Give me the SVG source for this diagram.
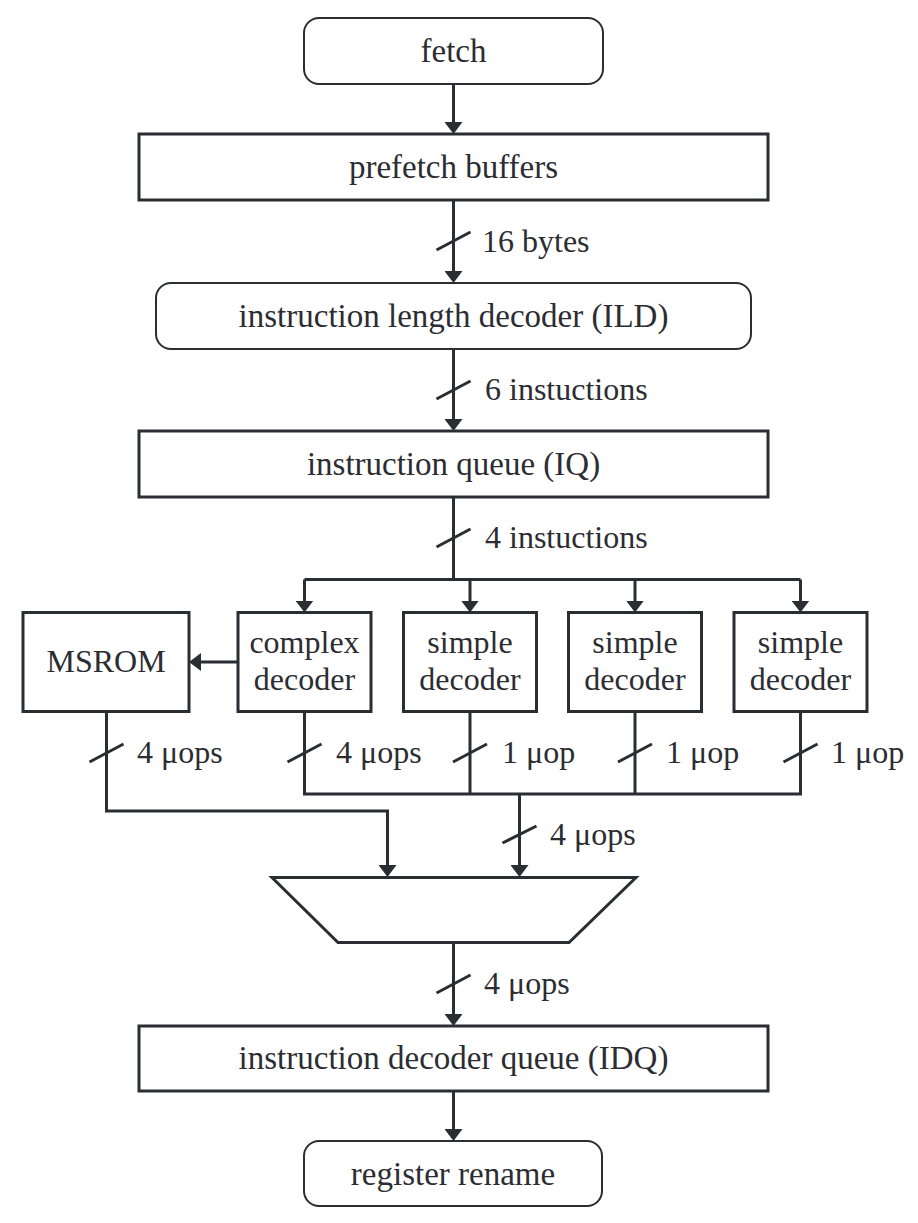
<svg xmlns="http://www.w3.org/2000/svg" width="918" height="1223" viewBox="0 0 918 1223">
<style>
.box{fill:#fff;stroke:#2b2d32;stroke-width:3}
.rbox{fill:#fff;stroke:#2b2d32;stroke-width:2}
.t{font-family:"Liberation Serif","Times New Roman",serif;font-size:33px;fill:#2b2d32;text-anchor:middle}
.d{font-family:"Liberation Serif","Times New Roman",serif;font-size:32px;fill:#2b2d32;text-anchor:middle}
.l{font-family:"Liberation Serif","Times New Roman",serif;font-size:32px;fill:#2b2d32}
.c{fill:none;stroke:#2b2d32;stroke-width:3}
.a{fill:none;stroke:#2b2d32;stroke-width:3;marker-end:url(#arr)}
</style>
<defs>
<marker id="arr" markerUnits="userSpaceOnUse" markerWidth="12" markerHeight="18" viewBox="0 0 12 18" refX="4" refY="9" orient="auto">
<path d="M0,0 L12,9 L0,18 Z" fill="#2b2d32"/>
</marker>
</defs>
<rect width="918" height="1223" fill="#fff"/>

<g id="connectors">
<path class="a" d="M453.5,84 V126"/>
<path class="a" d="M453.5,200 V275"/>
<path class="a" d="M453.5,349 V423"/>
<path class="c" d="M453.5,497 V579.5"/>
<path class="c" d="M304.5,579.5 H800.5"/>
<path class="a" d="M304.5,579.5 V604.5"/>
<path class="a" d="M470,579.5 V604.5"/>
<path class="a" d="M635,579.5 V604.5"/>
<path class="a" d="M800.5,579.5 V604.5"/>
<path class="a" d="M238,662 H197"/>
<path class="a" d="M106.5,711.5 V811 H387.5 V869"/>
<path class="c" d="M304.5,711.5 V794 H800.5 V711.5"/>
<path class="c" d="M470,711.5 V794"/>
<path class="c" d="M635,711.5 V794"/>
<path class="a" d="M519.5,794 V869"/>
<path class="a" d="M453.5,942.5 V1018"/>
<path class="a" d="M453.5,1091 V1133"/>
<path class="c" d="M436.5,250 L470.5,232"/>
<path class="c" d="M436.5,399 L470.5,381"/>
<path class="c" d="M436.5,547 L470.5,529"/>
<path class="c" d="M89.5,762 L123.5,744"/>
<path class="c" d="M287.5,762 L321.5,744"/>
<path class="c" d="M453,762 L487,744"/>
<path class="c" d="M618,762 L652,744"/>
<path class="c" d="M783.5,762 L817.5,744"/>
<path class="c" d="M502.5,843 L536.5,826"/>
<path class="c" d="M436.5,993 L470.5,975"/>
<text class="l" x="482" y="252">16 bytes</text>
<text class="l" x="485" y="400">6 instuctions</text>
<text class="l" x="485" y="548">4 instuctions</text>
<text class="l" x="137" y="763">4 μops</text>
<text class="l" x="336" y="763">4 μops</text>
<text class="l" x="502" y="763">1 μop</text>
<text class="l" x="666" y="763">1 μop</text>
<text class="l" x="831" y="763">1 μop</text>
<text class="l" x="550" y="845">4 μops</text>
<text class="l" x="484" y="994">4 μops</text>
</g>

<g id="fetch">
<rect class="rbox" x="304" y="18" width="299" height="66" rx="15"/>
<text class="t" x="453.5" y="62">fetch</text>
</g>
<g id="prefetch">
<rect class="box" x="139" y="134" width="629" height="66"/>
<text class="t" x="453.5" y="178">prefetch buffers</text>
</g>
<g id="ild">
<rect class="rbox" x="156" y="283" width="595" height="66" rx="15"/>
<text class="t" x="453.5" y="327">instruction length decoder (ILD)</text>
</g>
<g id="iq">
<rect class="box" x="139" y="431" width="629" height="66"/>
<text class="t" x="453.5" y="475">instruction queue (IQ)</text>
</g>
<g id="msrom">
<rect class="box" x="23" y="612.5" width="166" height="99"/>
<text class="d" x="106" y="672">MSROM</text>
</g>
<g id="complex">
<rect class="box" x="238" y="612.5" width="133" height="99"/>
<text class="d" x="304.5" y="653">complex</text>
<text class="d" x="304.5" y="690">decoder</text>
</g>
<g id="simple1">
<rect class="box" x="403.5" y="612.5" width="133" height="99"/>
<text class="d" x="470" y="653">simple</text>
<text class="d" x="470" y="690">decoder</text>
</g>
<g id="simple2">
<rect class="box" x="568.5" y="612.5" width="133" height="99"/>
<text class="d" x="635" y="653">simple</text>
<text class="d" x="635" y="690">decoder</text>
</g>
<g id="simple3">
<rect class="box" x="734" y="612.5" width="133" height="99"/>
<text class="d" x="800.5" y="653">simple</text>
<text class="d" x="800.5" y="690">decoder</text>
</g>
<g id="mux">
<polygon class="box" points="272,877.5 636,877.5 569,942.5 338,942.5"/>
</g>
<g id="idq">
<rect class="box" x="139" y="1026" width="629" height="65"/>
<text class="t" x="453.5" y="1069">instruction decoder queue (IDQ)</text>
</g>
<g id="rename">
<rect class="rbox" x="304" y="1141" width="298" height="65" rx="15"/>
<text class="t" x="453" y="1185">register rename</text>
</g>
</svg>
